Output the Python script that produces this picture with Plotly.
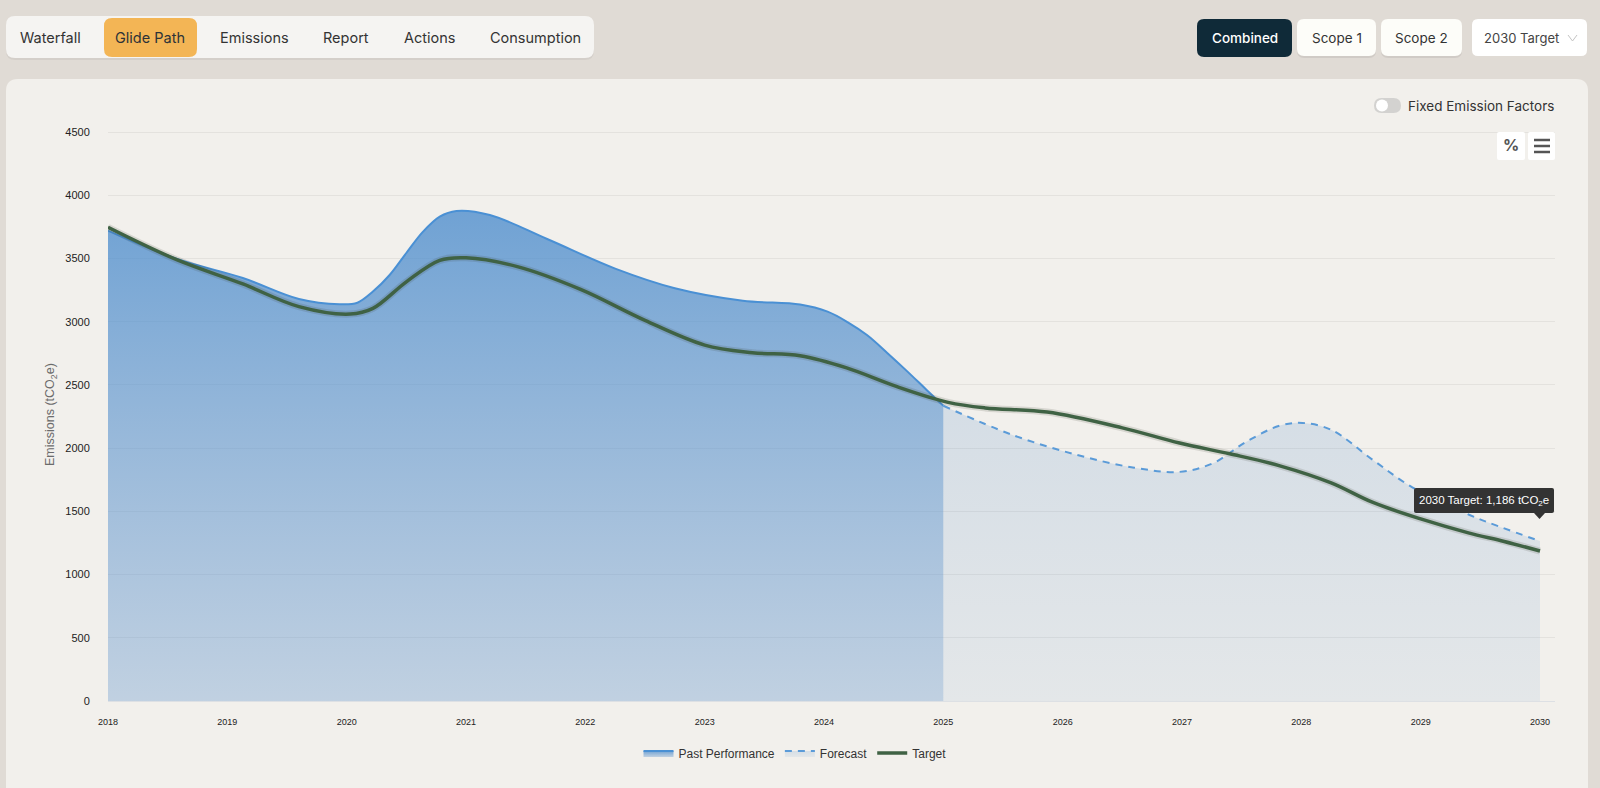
import plotly.graph_objects as go

# ---- data ----
past_years = [2018, 2018.58, 2019.13, 2019.6, 2019.94, 2020.09, 2020.22, 2020.36, 2020.5, 2020.64, 2020.78, 2020.92, 2021.2, 2021.68, 2022.25, 2022.75, 2023.32, 2023.8, 2024.03, 2024.2, 2024.36, 2024.53, 2024.7, 2024.86, 2025]
past_values = [3720, 3496, 3345, 3179, 3138, 3150, 3238, 3369, 3543, 3712, 3831, 3876, 3844, 3654, 3420, 3265, 3166, 3135, 3079, 2995, 2894, 2753, 2605, 2460, 2335]

forecast_years = [2025, 2025.58, 2026.12, 2026.6, 2026.98, 2027.26, 2027.54, 2027.82, 2028.01, 2028.25, 2028.6, 2028.93, 2029.41, 2029.66, 2030]
forecast_values = [2335, 2104, 1946, 1845, 1812, 1881, 2051, 2178, 2199, 2145, 1906, 1690, 1471, 1379, 1265]

target_years = [2018, 2018.58, 2019.13, 2019.6, 2020.03, 2020.22, 2020.5, 2020.78, 2021, 2021.43, 2021.96, 2022.5, 2023, 2023.4, 2023.8, 2024.19, 2024.6, 2025.04, 2025.35, 2025.87, 2026.5, 2026.98, 2027.4, 2027.82, 2028.25, 2028.6, 2029, 2029.4, 2029.7, 2030]
target_values = [3746, 3488, 3298, 3119, 3060, 3105, 3315, 3485, 3505, 3435, 3255, 3010, 2815, 2755, 2730, 2634, 2490, 2362, 2318, 2285, 2160, 2040, 1955, 1860, 1725, 1570, 1440, 1330, 1262, 1186]

x_ticks = list(range(2018, 2031))
y_ticks = list(range(0, 5000, 500))
tab_labels = ["Waterfall", "Glide Path", "Emissions", "Report", "Actions", "Consumption"]
scope_labels = ["Combined", "Scope 1", "Scope 2"]
series_names = ["Past Performance", "Forecast", "Target"]

# ---- layout geometry (pixels) ----
W, H = 1600, 788
L, R, T, B = 108, 1555, 130, 701


def px(x):
    return (x - L) / (R - L)


def py(y):
    return (B - y) / (B - T)


def rrect(x0, y0, x1, y1, r):
    a, b, c, d = px(x0), px(x1), py(y0), py(y1)
    rx, ry = r / (R - L), r / (B - T)
    return (f"M {a+rx} {c} L {b-rx} {c} Q {b} {c} {b} {c-ry} L {b} {d+ry} Q {b} {d} {b-rx} {d} "
            f"L {a+rx} {d} Q {a} {d} {a} {d+ry} L {a} {c-ry} Q {a} {c} {a+rx} {c} Z")


shapes, notes = [], []


def box(x0, y0, x1, y1, r, fill, layer="below", line=None):
    shapes.append(dict(type="path", path=rrect(x0, y0, x1, y1, r), xref="paper", yref="paper",
                       fillcolor=fill, line=dict(width=1 if line else 0, color=line or "rgba(0,0,0,0)"), layer=layer))


def label(x, y, text, size=14, color="#2b2b2b", family="Inter", anchor="center", weight=400, bg=None):
    notes.append(dict(x=px(x), y=py(y), xref="paper", yref="paper", text=text, showarrow=False,
                      xanchor=anchor, yanchor="middle", bgcolor=bg,
                      font=dict(size=size, color=color, family=family, weight=weight)))


# card
box(6, 79, 1588, 830, 12, "#f2f0ec")

# tabs
box(6, 18, 594, 60, 9, "rgba(0,0,0,0.05)")
box(6, 16, 594, 58, 9, "#f5f4f2")
box(104, 18, 197, 57, 8, "#f3b555")
tab_centers = [50, 150, 254, 346, 429, 535]
for name, cx in zip(tab_labels, tab_centers):
    label(cx, 37.5, name, size=14.5, color="#2d3338" if name == "Glide Path" else "#333333")

# scope buttons
scope_boxes = [(1197, 1292), (1297, 1376), (1381, 1462)]
for i, (name, (a, b)) in enumerate(zip(scope_labels, scope_boxes)):
    if i == 0:
        box(a, 19, b, 57, 7, "#0f2a38")
        label((a + b) / 2, 38, name, size=13.5, color="#ffffff", weight=500)
    else:
        box(a, 20, b, 58, 7, "rgba(0,0,0,0.07)")
        box(a, 19, b, 56, 7, "#fdfdf9")
        label((a + b) / 2, 38, name, size=13.5, color="#333333")

# target dropdown
box(1472, 19, 1587, 56, 6, "#ffffff")
label(1561, 38, "2030 Target", size=13, color="#444444", anchor="right")
shapes.append(dict(type="path", xref="paper", yref="paper", layer="below",
                   path=f"M {px(1568)} {py(35)} L {px(1572.5)} {py(41)} L {px(1577)} {py(35)}",
                   line=dict(color="#c4c4c4", width=1)))

# toggle
box(1374, 98, 1401, 113, 7.5, "#d3d2d0")
shapes.append(dict(type="circle", xref="paper", yref="paper", layer="below",
                   x0=px(1376), x1=px(1388), y0=py(111.5), y1=py(99.5),
                   fillcolor="#ffffff", line=dict(width=0)))
label(1406, 105.5, "Fixed Emission Factors", size=13.5, color="#333333", anchor="left")

# chart tool buttons
box(1497, 132, 1525, 160, 2, "#ffffff", layer="above")
box(1528, 132, 1555, 160, 2, "#ffffff", layer="above")
label(1511, 145.5, "%", size=16, color="#555555", weight=700, family="Inter")
for yy in (140, 146, 152):
    shapes.append(dict(type="line", xref="paper", yref="paper", layer="above",
                       x0=px(1534), x1=px(1550), y0=py(yy), y1=py(yy),
                       line=dict(color="#555555", width=2.5)))

# tooltip
box(1414, 488, 1554, 513, 2, "#333333", layer="above")
shapes.append(dict(type="path", xref="paper", yref="paper", layer="above",
                   path=f"M {px(1534)} {py(513)} L {px(1539.5)} {py(519)} L {px(1545)} {py(513)} Z",
                   fillcolor="#333333", line=dict(width=0)))
label(1484, 500.5, "2030 Target: 1,186 tCO<sub>2</sub>e", size=11.5, color="#ffffff", family="Liberation Sans")

# y axis title
notes.append(dict(x=px(51), y=py(415), xref="paper", yref="paper", text="Emissions (tCO<sub>2</sub>e)",
                  textangle=-90, showarrow=False, xanchor="center", yanchor="middle",
                  font=dict(size=12.5, color="#6b6b6b", family="Liberation Sans")))

# ---- traces ----
SMOOTH = 1.0
fig = go.Figure()
fig.add_trace(go.Scatter(
    x=past_years, y=past_values, name=series_names[0], mode="lines",
    line=dict(color="#4a90d4", width=2, shape="spline", smoothing=SMOOTH),
    fill="tozeroy",
    fillgradient=dict(type="vertical", start=0, stop=3870,
                      colorscale=[[0, "rgba(100,150,205,0.35)"], [1, "rgba(75,140,205,0.78)"]]),
))
fig.add_trace(go.Scatter(
    x=forecast_years, y=forecast_values, name=series_names[1], mode="lines",
    line=dict(color="#5b9bd8", width=2, dash="7px,6px", shape="spline", smoothing=SMOOTH),
    fill="tozeroy",
    fillgradient=dict(type="vertical", start=0, stop=2200,
                      colorscale=[[0, "rgba(100,150,205,0.10)"], [1, "rgba(100,150,205,0.20)"]]),
))
fig.add_trace(go.Scatter(
    x=target_years, y=target_values, mode="lines", showlegend=False, hoverinfo="skip",
    line=dict(color="rgba(60,60,40,0.14)", width=7, shape="spline", smoothing=SMOOTH),
))
fig.add_trace(go.Scatter(
    x=target_years, y=target_values, name=series_names[2], mode="lines",
    line=dict(color="#3f6244", width=3.5, shape="spline", smoothing=SMOOTH),
))

x_end = 2018 + (R - L) / ((1540 - L) / 12)
y_top = 4500 * (B - T) / (B - 132)
fig.update_layout(
    width=W, height=H,
    margin=dict(l=L, r=W - R, t=T, b=H - B),
    paper_bgcolor="#e0dbd5", plot_bgcolor="rgba(0,0,0,0)",
    font=dict(family="Liberation Sans", color="#333333"),
    shapes=shapes, annotations=notes,
    legend=dict(orientation="h", x=px(795), y=py(753), xanchor="center", yanchor="middle",
                bgcolor="rgba(0,0,0,0)", font=dict(size=12, color="#333333"), itemwidth=30),
    xaxis=dict(range=[2018, x_end], tickmode="array", tickvals=x_ticks, ticktext=[str(v) for v in x_ticks],
               tickfont=dict(size=9, color="#222222"), showgrid=False, zeroline=False,
               ticks="outside", ticklen=12, tickcolor="rgba(0,0,0,0)", showline=True, linecolor="#dde0e4", linewidth=1),
    yaxis=dict(range=[0, y_top], tickmode="array", tickvals=y_ticks, ticktext=[str(v) for v in y_ticks],
               tickfont=dict(size=11, color="#222222"), showgrid=True, gridcolor="#e4e2de", gridwidth=1,
               zeroline=False, ticks="outside", ticklen=15, tickcolor="rgba(0,0,0,0)"),
)

fig.write_html("out.html", config=dict(displayModeBar=False),
               post_script="document.body.style.margin='0';document.body.style.overflow='hidden';")
